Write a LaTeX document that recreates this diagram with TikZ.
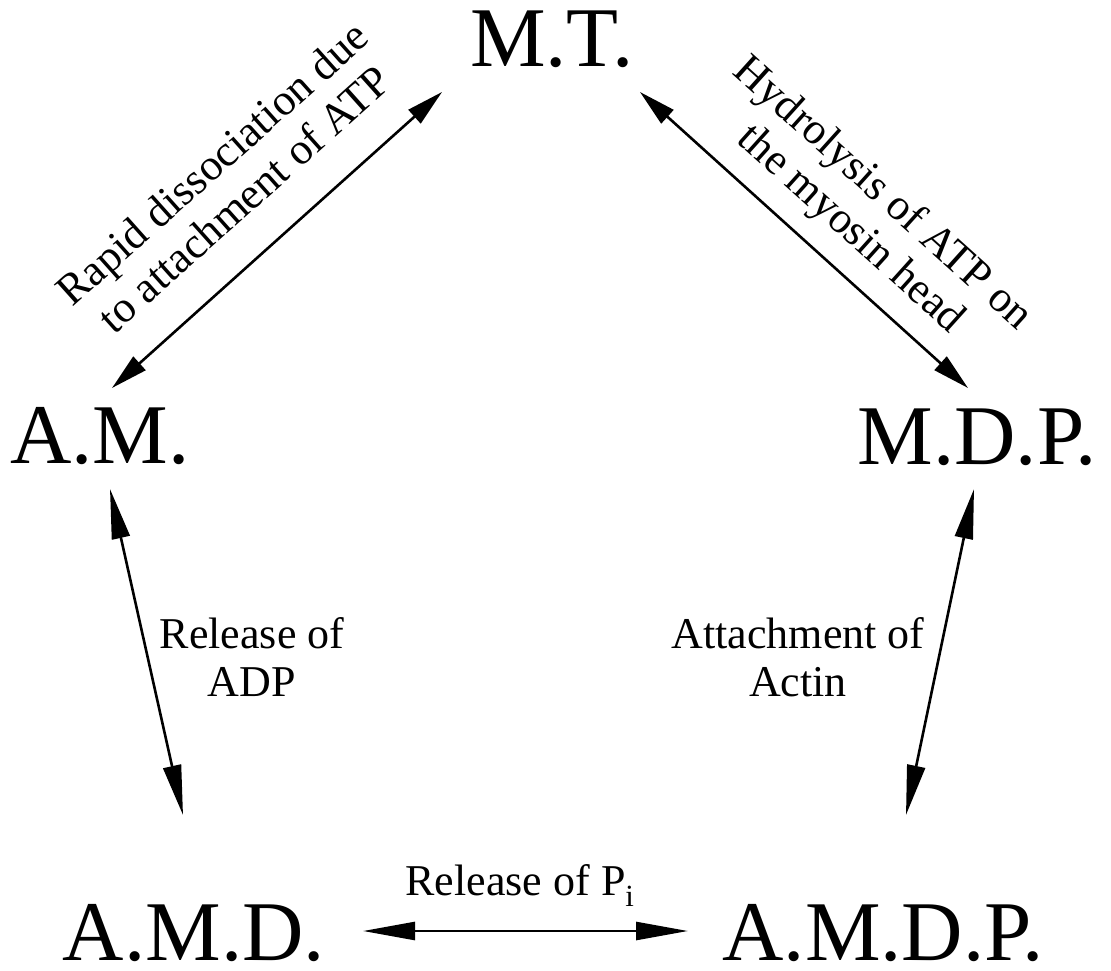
\documentclass[tikz,border=0pt]{standalone}
\usepackage{fontspec}
\setmainfont{Liberation Serif}
\usetikzlibrary{arrows.meta}
\tikzset{
  big/.style={font=\fontsize{85}{90}\selectfont, inner sep=0pt, anchor=base, text depth=0pt},
  lab/.style={font=\fontsize{44}{48}\selectfont, align=center, inner sep=0pt},
  conn/.style={line width=2.6pt, {Triangle[length=#1,width=18pt]}-{Triangle[length=#1,width=18pt]}},
  conn/.default=37pt
}
\begin{document}
\begin{tikzpicture}[x=1pt,y=-1pt]
\useasboundingbox (0,0) rectangle (1111,971);
% states
\node[big] (mt) at (552,67) {M.T.};
\node[big] (am) at (100,463) {A.M.};
\node[big] (mdp) at (977,464) {M.D.P.};
\node[big] (amd) at (194,960) {A.M.D.};
\node[big] (amdp) at (883,960) {A.M.D.P.};
% arrow end points
\coordinate (am-ne) at (112,388);
\coordinate (mt-sw) at (442,92);
\coordinate (mt-se) at (640,92);
\coordinate (mdp-nw) at (968,388);
\coordinate (am-s) at (110,489);
\coordinate (amd-n) at (183,815);
\coordinate (mdp-s) at (974,489);
\coordinate (amdp-n) at (906,815);
\coordinate (amd-e) at (363,931);
\coordinate (amdp-w) at (688,931);
% connectors
\draw[conn] (am-ne) -- (mt-sw);
\draw[conn] (mt-se) -- (mdp-nw);
\draw[conn=50pt] (am-s) -- (amd-n);
\draw[conn=50pt] (mdp-s) -- (amdp-n);
\draw[conn=52pt] (amd-e) -- (amdp-w);
% labels
\node[lab, rotate=41.8] (l1) at (228,181) {Rapid dissociation due\\to attachment of ATP};
\node[lab, rotate=-42] (l2) at (866,212) {Hydrolysis of ATP on\\the myosin head};
\node[lab] (l3) at (252,657) {Release of\\ADP};
\node[lab] (l4) at (798,657) {Attachment of\\Actin};
\node[lab, anchor=base] (l5) at (520,895) {Release of P\textsubscript{i}};
\end{tikzpicture}
\end{document}
